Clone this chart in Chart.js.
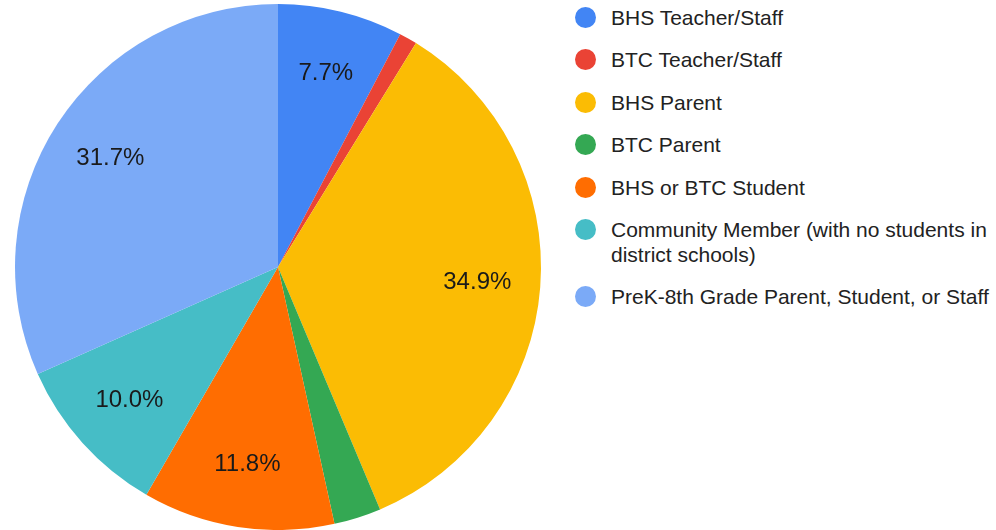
<!DOCTYPE html>
<html>
<head>
<meta charset="utf-8">
<script src="https://cdn.jsdelivr.net/npm/chart.js@4/dist/chart.umd.min.js"></script>
<style>
  html, body { margin: 0; padding: 0; background: #fff; }
  body { width: 996px; height: 530px; position: relative; overflow: hidden; font-family: "Liberation Sans", Arial, sans-serif; }
  #pieBox { position: absolute; left: 0; top: 0; width: 556px; height: 530px; }
  #legend { position: absolute; left: 575px; top: 5px; width: 421px; }
  .item { display: flex; align-items: flex-start; margin-bottom: 17.4px; }
  .dot { width: 21px; height: 21px; border-radius: 50%; margin-top: 2px; flex: none; }
  .txt { margin-left: 15px; font-size: 21px; line-height: 25px; color: #222; width: 384px; }
</style>
</head>
<body>
<div id="pieBox"><canvas id="pie"></canvas></div>
<div id="legend"></div>
<script>
// données du graphique
const labels = [
  'BHS Teacher/Staff',
  'BTC Teacher/Staff',
  'BHS Parent',
  'BTC Parent',
  'BHS or BTC Student',
  'Community Member (with no students in district schools)',
  'PreK-8th Grade Parent, Student, or Staff',
];
const percents = [7.7, 1.1, 34.9, 2.9, 11.8, 10.0, 31.7];
const colors = ['#4285F4', '#EA4335', '#FBBC04', '#34A853', '#FF6D01', '#46BDC6', '#7BAAF7'];

// légende en HTML (le texte long doit passer à la ligne)
const legend = document.getElementById('legend');
labels.forEach((label, i) => {
  const item = document.createElement('div');
  item.className = 'item';
  const dot = document.createElement('div');
  dot.className = 'dot';
  dot.style.background = colors[i];
  const txt = document.createElement('div');
  txt.className = 'txt';
  txt.textContent = label;
  item.appendChild(dot);
  item.appendChild(txt);
  legend.appendChild(item);
});

// étiquettes de pourcentage dans les parts
const sliceLabels = {
  id: 'sliceLabels',
  afterDatasetsDraw(chart) {
    const { ctx } = chart;
    const meta = chart.getDatasetMeta(0);
    ctx.save();
    ctx.font = '24px "Liberation Sans", Arial, sans-serif';
    ctx.fillStyle = '#1a1a1a';
    ctx.textAlign = 'center';
    ctx.textBaseline = 'middle';
    meta.data.forEach((arc, i) => {
      if (percents[i] < 5) return;
      const p = arc.getProps(['x', 'y', 'startAngle', 'endAngle', 'outerRadius']);
      const mid = (p.startAngle + p.endAngle) / 2;
      const r = p.outerRadius * 0.76;
      ctx.fillText(percents[i].toFixed(1) + '%', p.x + Math.cos(mid) * r, p.y + Math.sin(mid) * r);
    });
    ctx.restore();
  },
};

new Chart(document.getElementById('pie'), {
  type: 'pie',
  data: {
    labels,
    datasets: [{
      data: percents,
      backgroundColor: colors,
      borderWidth: 0,
    }],
  },
  options: {
    responsive: true,
    maintainAspectRatio: false,
    animation: false,
    layout: { padding: { top: 4 } },
    plugins: {
      legend: { display: false },
      tooltip: { enabled: false },
    },
  },
  plugins: [sliceLabels],
});
</script>
</body>
</html>
